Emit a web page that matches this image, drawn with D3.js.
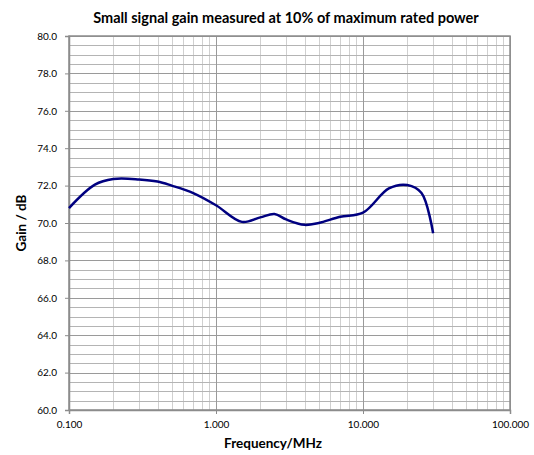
<!DOCTYPE html>
<html><head><meta charset="utf-8">
<script src="https://cdn.jsdelivr.net/npm/d3@7"></script>
<style>body{margin:0;background:#fff}svg{display:block;font-family:Lato,"Open Sans",sans-serif}</style>
</head><body><svg id="c" width="534" height="455"></svg>
<script>
const freqs = [0.1, 0.15, 0.2, 0.3, 0.4, 0.5, 0.7, 1.0, 1.5, 2.0, 2.5, 3.0, 4.0, 5.0, 7.0, 10.0, 15.0, 20.0, 25.0, 30.0];
const gains = [70.8, 72.05, 72.35, 72.33, 72.22, 72.0, 71.6, 70.95, 70.06, 70.3, 70.48, 70.19, 69.9, 70.0, 70.33, 70.55, 71.85, 72.03, 71.6, 69.45];
const xTicks = [0.1, 1, 10, 100];
const yTicks = [60, 62, 64, 66, 68, 70, 72, 74, 76, 78, 80];
const title = "Small signal gain measured at 10% of maximum rated power";
const xTitle = "Frequency/MHz";
const yTitle = "Gain / dB";

const FONT = "Lato,'Open Sans',sans-serif";
const svg = d3.select("#c");
const L = 69, R = 510, T = 36, B = 410;
const x = d3.scaleLog().domain([0.1, 100]).range([L, R]);
const y = d3.scaleLinear().domain([60, 80]).range([B, T]);
const g = svg.append("g");

// minor vertical grid
const minorX = [];
for (let d = 0.1; d < 100; d *= 10) for (let k = 2; k <= 9; k++) minorX.push(+(d * k).toPrecision(3));
g.selectAll(".vx").data(minorX).enter().append("line")
  .attr("x1", d => Math.round(x(d)) + 0.5).attr("x2", d => Math.round(x(d)) + 0.5)
  .attr("y1", T).attr("y2", B).attr("stroke", "#d0d0d0").attr("stroke-width", 1);
// minor horizontal grid
const minorY = d3.range(60.5, 80, 0.5).filter(v => Math.abs(v % 2) > 0.01);
g.selectAll(".hy").data(minorY).enter().append("line")
  .attr("x1", L).attr("x2", R)
  .attr("y1", d => Math.round(y(d)) + 0.5).attr("y2", d => Math.round(y(d)) + 0.5)
  .attr("stroke", "#b4b4b4").attr("stroke-width", 1);
// major horizontal grid
g.selectAll(".Hy").data(yTicks).enter().append("line")
  .attr("x1", L).attr("x2", R)
  .attr("y1", d => Math.round(y(d)) + 0.5).attr("y2", d => Math.round(y(d)) + 0.5)
  .attr("stroke", "#9a9a9a").attr("stroke-width", 1);
// major vertical grid
g.selectAll(".Vx").data(xTicks).enter().append("line")
  .attr("x1", d => Math.round(x(d)) + 0.5).attr("x2", d => Math.round(x(d)) + 0.5)
  .attr("y1", T).attr("y2", B).attr("stroke", "#9a9a9a").attr("stroke-width", 1);

// axes
const xAxis = d3.axisBottom(x).tickValues(xTicks).tickFormat(d3.format(".3f")).tickSize(4).tickPadding(3);
const yAxis = d3.axisLeft(y).tickValues(yTicks).tickFormat(d3.format(".1f")).tickSize(4).tickPadding(8);
const ax = svg.append("g").attr("transform", `translate(0,${B})`).call(xAxis);
const ay = svg.append("g").attr("transform", `translate(${L},0)`).call(yAxis);
[ax, ay].forEach(a => {
  a.select(".domain").attr("stroke", "#8c8c8c").attr("stroke-width", 1.5);
  a.selectAll(".tick line").attr("stroke", "#8c8c8c");
  a.selectAll("text").attr("fill", "#000").attr("font-size", 10).style("font-family", FONT);
});
ax.selectAll("text").attr("dy", "1.05em");
// plot border
svg.append("rect").attr("x", L).attr("y", T).attr("width", R - L).attr("height", B - T)
  .attr("fill", "none").attr("stroke", "#8c8c8c").attr("stroke-width", 1.5);

// line
const data = freqs.map((f, i) => [f, gains[i]]);
svg.append("path").datum(data)
  .attr("d", d3.line().x(d => x(d[0])).y(d => y(d[1])).curve(d3.curveCatmullRom.alpha(0.5)))
  .attr("fill", "none").attr("stroke", "#000080").attr("stroke-width", 2.5);

// titles
svg.append("text").attr("x", 286).attr("y", 23).attr("text-anchor", "middle").style("font-family", FONT)
  .attr("font-size", 14.5).attr("font-weight", "bold").text(title);
svg.append("text").attr("x", 273).attr("y", 448).attr("text-anchor", "middle").style("font-family", FONT)
  .attr("font-size", 13.5).attr("font-weight", "bold").text(xTitle);
svg.append("text").attr("transform", "translate(26,223) rotate(-90)").attr("text-anchor", "middle").style("font-family", FONT)
  .attr("font-size", 13.5).attr("font-weight", "bold").text(yTitle);
</script></body></html>
